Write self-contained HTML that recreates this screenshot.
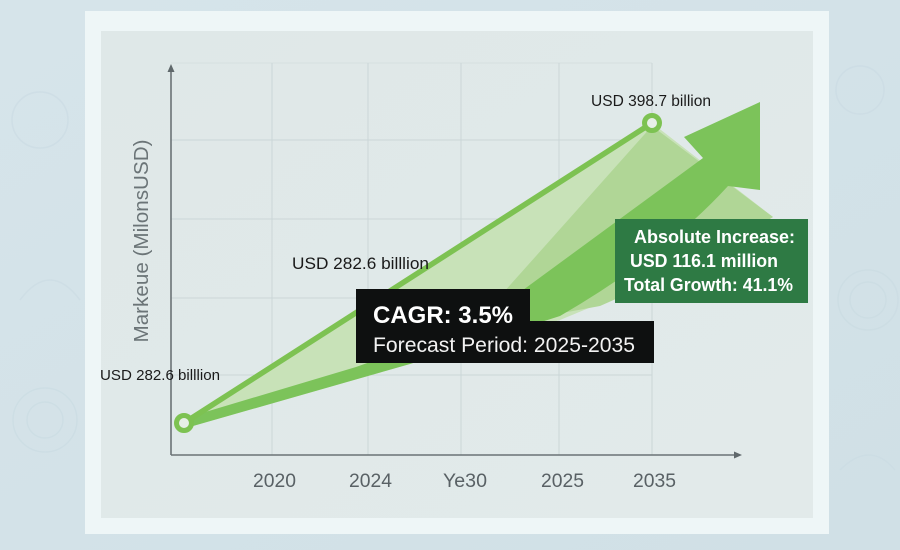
<!DOCTYPE html>
<html>
<head>
<meta charset="utf-8">
<style>
  html,body{margin:0;padding:0;width:900px;height:550px;overflow:hidden;background:#d4e3e9;}
  svg{display:block;}
  text{font-family:"Liberation Sans",sans-serif;}
</style>
</head>
<body>
<svg width="900" height="550" viewBox="0 0 900 550" xmlns="http://www.w3.org/2000/svg">
  <defs>
    <linearGradient id="bg" x1="0" y1="0" x2="1" y2="1">
      <stop offset="0" stop-color="#d6e4ea"/>
      <stop offset="1" stop-color="#d0e0e6"/>
    </linearGradient>
    <linearGradient id="panel" x1="0" y1="0" x2="1" y2="1">
      <stop offset="0" stop-color="#dfe8e8"/>
      <stop offset="1" stop-color="#e2eaea"/>
    </linearGradient>
  </defs>

  <!-- outer background -->
  <rect x="0" y="0" width="900" height="550" fill="url(#bg)"/>
  <!-- faint doodles -->
  <g fill="none" stroke="#cadbe2" stroke-width="1.5" opacity="0.6">
    <circle cx="868" cy="300" r="30"/>
    <circle cx="868" cy="300" r="18"/>
    <circle cx="40" cy="120" r="28"/>
    <circle cx="45" cy="420" r="32"/>
    <circle cx="45" cy="420" r="18"/>
    <circle cx="860" cy="90" r="24"/>
    <path d="M20 300 q30 -40 60 0"/>
    <path d="M840 470 q30 -30 55 0"/>
  </g>

  <!-- frame -->
  <rect x="85" y="11" width="744" height="523" fill="#eef6f7"/>
  <!-- panel -->
  <rect x="101" y="31" width="712" height="487" fill="url(#panel)"/>

  <!-- grid -->
  <g stroke="#cbd6d7" stroke-width="1">
    <line x1="171" y1="63" x2="652" y2="63" stroke="#d6dfe0"/>
    <line x1="171" y1="140" x2="652" y2="140"/>
    <line x1="171" y1="219" x2="652" y2="219"/>
    <line x1="171" y1="298" x2="652" y2="298"/>
    <line x1="171" y1="375" x2="652" y2="375"/>
    <line x1="272" y1="63" x2="272" y2="455"/>
    <line x1="368" y1="63" x2="368" y2="455"/>
    <line x1="461" y1="63" x2="461" y2="455"/>
    <line x1="559" y1="63" x2="559" y2="455"/>
    <line x1="652" y1="63" x2="652" y2="455"/>
  </g>

  <!-- pale fill region -->
  <polygon points="184,423 652,123 773,217 700,262 560,320 410,364 186,428" fill="#c8e2b8"/>
  <!-- mid fill region -->
  <polygon points="652,126 773,217 700,262 600,306 470,330" fill="#b0d696"/>

  <!-- arrow (shaft + head) -->
  <path d="M760,102 L760,190 L728,186 Q665,255 560,316 L410,364 L186,428 L182,419 L356,367 L460,330 L523,290 L703,158 L684,137 Z" fill="#7cc35a"/>

  <!-- data line -->
  <line x1="184" y1="423" x2="652" y2="123" stroke="#7dc252" stroke-width="5.5" stroke-linecap="round"/>

  <!-- axes -->
  <g stroke="#6b7376" stroke-width="1.6" fill="none">
    <line x1="171" y1="455" x2="171" y2="70"/>
    <line x1="171" y1="455" x2="736" y2="455"/>
  </g>
  <polygon points="171,64 167.5,72 174.5,72" fill="#5f686b"/>
  <polygon points="742,455 734,451.5 734,458.5" fill="#5f686b"/>

  <!-- points -->
  <circle cx="184" cy="423" r="7.5" fill="#e7efe7" stroke="#7dc252" stroke-width="5"/>
  <circle cx="652" cy="123" r="7.5" fill="#e7efe7" stroke="#7dc252" stroke-width="5"/>

  <!-- y axis label -->
  <text transform="translate(148,241) rotate(-90)" text-anchor="middle" font-size="20" fill="#6b7477" textLength="203" lengthAdjust="spacingAndGlyphs">Markeue (MilonsUSD)</text>

  <!-- tick labels -->
  <g font-size="19" fill="#596165">
    <text x="253" y="487" textLength="43" lengthAdjust="spacingAndGlyphs">2020</text>
    <text x="349" y="487" textLength="43" lengthAdjust="spacingAndGlyphs">2024</text>
    <text x="443" y="487" textLength="44" lengthAdjust="spacingAndGlyphs">Ye30</text>
    <text x="541" y="487" textLength="43" lengthAdjust="spacingAndGlyphs">2025</text>
    <text x="633" y="487" textLength="43" lengthAdjust="spacingAndGlyphs">2035</text>
  </g>

  <!-- data labels -->
  <text x="591" y="106" font-size="15.5" fill="#1a1a1a" textLength="120" lengthAdjust="spacingAndGlyphs">USD 398.7 billion</text>
  <text x="292" y="269" font-size="16.5" fill="#1a1a1a" textLength="137" lengthAdjust="spacingAndGlyphs">USD 282.6 billlion</text>
  <text x="100" y="380" font-size="15" fill="#1a1a1a" textLength="120" lengthAdjust="spacingAndGlyphs">USD 282.6 billlion</text>

  <!-- CAGR box -->
  <path d="M356,289 H530 V321 H654 V363 H356 Z" fill="#0e1010"/>
  <text x="373" y="323" font-size="24" font-weight="bold" fill="#ffffff" textLength="140" lengthAdjust="spacingAndGlyphs">CAGR: 3.5%</text>
  <text x="373" y="352" font-size="21" fill="#f2f2f2" textLength="262" lengthAdjust="spacingAndGlyphs">Forecast Period: 2025-2035</text>

  <!-- green box -->
  <rect x="615" y="219" width="193" height="84" fill="#2e7a44"/>
  <g font-size="18" font-weight="bold" fill="#ffffff">
    <text x="634" y="243" textLength="161" lengthAdjust="spacingAndGlyphs">Absolute Increase:</text>
    <text x="630" y="267" textLength="148" lengthAdjust="spacingAndGlyphs">USD 116.1 million</text>
    <text x="624" y="291" textLength="169" lengthAdjust="spacingAndGlyphs">Total Growth: 41.1%</text>
  </g>
</svg>
</body>
</html>
